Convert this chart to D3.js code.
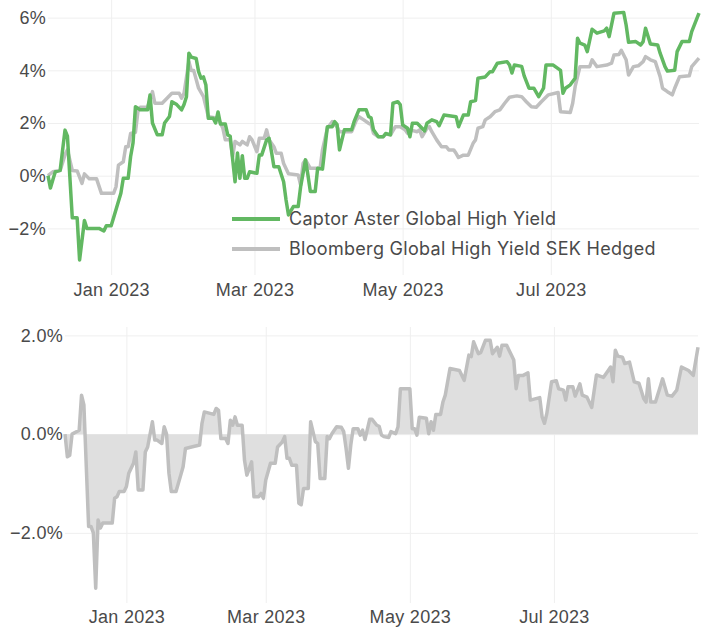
<!DOCTYPE html>
<html>
<head>
<meta charset="utf-8">
<script src="https://cdn.jsdelivr.net/npm/d3@7"></script>
<style>
  html, body { margin: 0; padding: 0; background: #fff; }
  svg { display: block; font-family: Inter, "Open Sans", sans-serif; letter-spacing: 0.3px; }
</style>
</head>
<body>
<svg id="chart" width="707" height="629"></svg>
<script>
// Cumulative return (%) since 2022-12-06
const seriesNames = ['Captor Aster Global High Yield', 'Bloomberg Global High Yield SEK Hedged'];

const captorReturns = [
  ['2022-12-06', 0.0], ['2022-12-07', -0.47], ['2022-12-08', -0.15], ['2022-12-09', 0.15],
  ['2022-12-11', 0.2], ['2022-12-13', 1.73], ['2022-12-14', 1.5], ['2022-12-16', -1.6],
  ['2022-12-18', -1.6], ['2022-12-19', -3.2], ['2022-12-21', -1.7], ['2022-12-22', -2.0],
  ['2022-12-27', -2.0], ['2022-12-29', -2.1], ['2022-12-30', -1.9], ['2023-01-01', -1.9],
  ['2023-01-02', -1.6], ['2023-01-05', -0.67], ['2023-01-06', -0.1], ['2023-01-08', -0.1],
  ['2023-01-09', 0.72], ['2023-01-10', 1.24], ['2023-01-11', 2.62], ['2023-01-13', 2.5],
  ['2023-01-16', 2.5], ['2023-01-17', 3.06], ['2023-01-18', 2.0], ['2023-01-20', 1.55],
  ['2023-01-22', 1.55], ['2023-01-23', 2.0], ['2023-01-25', 2.25], ['2023-01-26', 2.81],
  ['2023-01-28', 2.7], ['2023-01-30', 2.5], ['2023-01-31', 2.7], ['2023-02-01', 3.0],
  ['2023-02-02', 4.65], ['2023-02-03', 4.5], ['2023-02-05', 4.45], ['2023-02-06', 3.95],
  ['2023-02-07', 3.7], ['2023-02-08', 3.75], ['2023-02-09', 3.44], ['2023-02-10', 2.18],
  ['2023-02-12', 2.18], ['2023-02-13', 2.0], ['2023-02-14', 2.42], ['2023-02-15', 1.96],
  ['2023-02-17', 1.96], ['2023-02-18', 1.55], ['2023-02-19', 1.5], ['2023-02-21', -0.23],
  ['2023-02-22', 0.86], ['2023-02-23', -0.1], ['2023-02-24', 0.76], ['2023-02-25', -0.1],
  ['2023-02-26', -0.1], ['2023-02-27', 0.15], ['2023-03-02', 0.09], ['2023-03-03', 0.79],
  ['2023-03-04', 0.79], ['2023-03-06', 1.36], ['2023-03-07', 1.42], ['2023-03-08', 0.91],
  ['2023-03-09', 0.34], ['2023-03-11', 0.34], ['2023-03-13', -0.23], ['2023-03-14', -0.92],
  ['2023-03-15', -1.49], ['2023-03-17', -1.17], ['2023-03-19', -1.17], ['2023-03-20', -0.42],
  ['2023-03-22', 0.6], ['2023-03-23', 0.03], ['2023-03-24', -0.6], ['2023-03-26', -0.6],
  ['2023-03-27', 0.28], ['2023-03-29', 0.25], ['2023-03-31', 1.86], ['2023-04-02', 1.86],
  ['2023-04-03', 2.05], ['2023-04-04', 1.95], ['2023-04-05', 0.98], ['2023-04-07', 1.74],
  ['2023-04-10', 1.74], ['2023-04-11', 2.05], ['2023-04-13', 2.5], ['2023-04-16', 2.5],
  ['2023-04-17', 2.24], ['2023-04-18', 2.2], ['2023-04-19', 1.74], ['2023-04-21', 1.48],
  ['2023-04-23', 1.48], ['2023-04-24', 1.6], ['2023-04-26', 1.55], ['2023-04-27', 2.75],
  ['2023-04-29', 2.81], ['2023-04-30', 2.7], ['2023-05-01', 1.93], ['2023-05-03', 1.8],
  ['2023-05-04', 1.48], ['2023-05-05', 1.99], ['2023-05-07', 1.99], ['2023-05-09', 1.8],
  ['2023-05-10', 1.7], ['2023-05-11', 1.99], ['2023-05-13', 2.12], ['2023-05-15', 2.05],
  ['2023-05-16', 1.9], ['2023-05-18', 2.3], ['2023-05-23', 2.24], ['2023-05-24', 1.86],
  ['2023-05-26', 2.3], ['2023-05-28', 2.3], ['2023-05-29', 2.81], ['2023-05-31', 2.85],
  ['2023-06-01', 3.7], ['2023-06-04', 3.75], ['2023-06-06', 3.95], ['2023-06-07', 3.95],
  ['2023-06-09', 4.27], ['2023-06-13', 4.33], ['2023-06-14', 4.2], ['2023-06-15', 3.9],
  ['2023-06-16', 4.2], ['2023-06-19', 4.15], ['2023-06-20', 3.8], ['2023-06-22', 3.32],
  ['2023-06-24', 3.32], ['2023-06-26', 3.0], ['2023-06-28', 3.32], ['2023-06-29', 4.2],
  ['2023-07-02', 4.2], ['2023-07-05', 4.0], ['2023-07-06', 3.13], ['2023-07-07', 3.32],
  ['2023-07-09', 3.45], ['2023-07-11', 3.7], ['2023-07-12', 5.22], ['2023-07-13', 5.03],
  ['2023-07-15', 4.96], ['2023-07-16', 4.71], ['2023-07-18', 5.56], ['2023-07-20', 5.41],
  ['2023-07-23', 5.5], ['2023-07-24', 5.6], ['2023-07-25', 5.28], ['2023-07-27', 6.17],
  ['2023-07-31', 6.2], ['2023-08-01', 5.72], ['2023-08-02', 5.07], ['2023-08-05', 5.09],
  ['2023-08-07', 4.96], ['2023-08-08', 5.09], ['2023-08-09', 5.6], ['2023-08-11', 5.0],
  ['2023-08-14', 4.96], ['2023-08-15', 4.65], ['2023-08-17', 4.14], ['2023-08-18', 3.97],
  ['2023-08-21', 4.0], ['2023-08-22', 4.71], ['2023-08-24', 5.09], ['2023-08-27', 5.09],
  ['2023-08-28', 5.47], ['2023-08-31', 6.17]
];

const benchmarkReturns = [
  ['2022-12-06', 0.0], ['2022-12-08', 0.15], ['2022-12-11', 0.2], ['2022-12-13', 0.79],
  ['2022-12-14', 0.98], ['2022-12-16', 0.2], ['2022-12-18', 0.18], ['2022-12-20', -0.29],
  ['2022-12-21', 0.07], ['2022-12-23', -0.12], ['2022-12-26', -0.12], ['2022-12-28', -0.67],
  ['2023-01-02', -0.67], ['2023-01-03', -0.42], ['2023-01-04', 0.4], ['2023-01-06', 0.53],
  ['2023-01-07', 1.1], ['2023-01-08', 1.1], ['2023-01-09', 1.6], ['2023-01-11', 1.65],
  ['2023-01-12', 2.43], ['2023-01-13', 2.6], ['2023-01-16', 2.6], ['2023-01-18', 3.19],
  ['2023-01-19', 2.75], ['2023-01-22', 2.75], ['2023-01-24', 2.94], ['2023-01-26', 3.13],
  ['2023-01-29', 3.13], ['2023-01-30', 2.94], ['2023-01-31', 3.13], ['2023-02-02', 4.33],
  ['2023-02-03', 3.99], ['2023-02-04', 3.99], ['2023-02-06', 3.32], ['2023-02-08', 3.0],
  ['2023-02-10', 2.24], ['2023-02-14', 2.18], ['2023-02-16', 1.8], ['2023-02-17', 1.36],
  ['2023-02-19', 1.36], ['2023-02-20', 0.72], ['2023-02-21', 1.3], ['2023-02-23', 1.17],
  ['2023-02-24', 1.3], ['2023-02-26', 1.17], ['2023-02-27', 1.48], ['2023-02-28', 1.36],
  ['2023-03-02', 0.91], ['2023-03-03', 1.42], ['2023-03-05', 1.42], ['2023-03-06', 1.74],
  ['2023-03-07', 1.36], ['2023-03-09', 1.1], ['2023-03-10', 0.85], ['2023-03-12', 0.85],
  ['2023-03-13', 0.46], ['2023-03-15', 0.07], ['2023-03-19', 0.03], ['2023-03-20', -0.36],
  ['2023-03-21', 0.46], ['2023-03-22', 0.6], ['2023-03-24', 0.28], ['2023-03-28', 0.28],
  ['2023-03-29', 0.98], ['2023-03-31', 1.8], ['2023-04-02', 2.05], ['2023-04-04', 1.86],
  ['2023-04-05', 1.67], ['2023-04-10', 1.67], ['2023-04-12', 2.12], ['2023-04-13', 2.24],
  ['2023-04-15', 2.12], ['2023-04-17', 1.99], ['2023-04-18', 1.95], ['2023-04-19', 1.61],
  ['2023-04-21', 1.48], ['2023-04-23', 1.48], ['2023-04-24', 1.58], ['2023-04-26', 1.55],
  ['2023-04-28', 1.86], ['2023-04-30', 1.86], ['2023-05-02', 1.74], ['2023-05-03', 1.61],
  ['2023-05-04', 1.74], ['2023-05-07', 1.67], ['2023-05-08', 1.74], ['2023-05-09', 1.48],
  ['2023-05-11', 1.8], ['2023-05-12', 1.86], ['2023-05-13', 1.67], ['2023-05-15', 1.36],
  ['2023-05-17', 1.1], ['2023-05-19', 1.1], ['2023-05-20', 0.98], ['2023-05-22', 0.98],
  ['2023-05-23', 0.85], ['2023-05-24', 0.69], ['2023-05-26', 0.78], ['2023-05-28', 0.78],
  ['2023-05-30', 1.23], ['2023-05-31', 1.36], ['2023-06-01', 1.8], ['2023-06-03', 1.86],
  ['2023-06-04', 2.12], ['2023-06-06', 2.24], ['2023-06-08', 2.43], ['2023-06-10', 2.5],
  ['2023-06-12', 2.75], ['2023-06-14', 2.98], ['2023-06-17', 3.03], ['2023-06-19', 3.0],
  ['2023-06-21', 2.8], ['2023-06-23', 2.62], ['2023-06-25', 2.6], ['2023-06-27', 2.8],
  ['2023-06-30', 3.07], ['2023-07-04', 3.16], ['2023-07-05', 2.43], ['2023-07-09', 2.4],
  ['2023-07-10', 2.75], ['2023-07-11', 3.38], ['2023-07-13', 4.14], ['2023-07-17', 4.14],
  ['2023-07-18', 4.4], ['2023-07-20', 4.14], ['2023-07-24', 4.2], ['2023-07-26', 4.27],
  ['2023-07-27', 4.58], ['2023-07-29', 4.6], ['2023-07-30', 4.76], ['2023-08-01', 4.4],
  ['2023-08-02', 3.82], ['2023-08-04', 4.14], ['2023-08-06', 4.17], ['2023-08-08', 4.33],
  ['2023-08-09', 4.52], ['2023-08-11', 4.4], ['2023-08-13', 4.33], ['2023-08-15', 3.76],
  ['2023-08-16', 3.32], ['2023-08-18', 3.19], ['2023-08-20', 3.07], ['2023-08-21', 3.32],
  ['2023-08-23', 3.76], ['2023-08-27', 3.79], ['2023-08-28', 4.14], ['2023-08-31', 4.46]
];

// Relative return vs benchmark (%)
const relativeReturns = [
  ['2022-12-06', 0.0], ['2022-12-07', -0.46], ['2022-12-08', -0.43], ['2022-12-09', 0.0],
  ['2022-12-12', 0.08], ['2022-12-13', 0.79], ['2022-12-14', 0.59], ['2022-12-16', -1.87],
  ['2022-12-17', -1.87], ['2022-12-18', -2.0], ['2022-12-19', -3.12], ['2022-12-20', -1.74],
  ['2022-12-21', -1.9], ['2022-12-22', -1.8], ['2022-12-26', -1.8], ['2022-12-27', -1.3],
  ['2022-12-28', -1.27], ['2022-12-29', -1.16], ['2022-12-31', -1.16], ['2023-01-01', -1.06],
  ['2023-01-02', -0.79], ['2023-01-04', -0.59], ['2023-01-05', -0.36], ['2023-01-06', -1.13],
  ['2023-01-08', -1.13], ['2023-01-09', -0.36], ['2023-01-10', -0.26], ['2023-01-12', 0.25],
  ['2023-01-13', -0.12], ['2023-01-14', -0.12], ['2023-01-16', -0.19], ['2023-01-17', 0.15],
  ['2023-01-18', 0.0], ['2023-01-19', -0.79], ['2023-01-20', -1.16], ['2023-01-22', -1.16],
  ['2023-01-24', -0.83], ['2023-01-25', -0.66], ['2023-01-26', -0.29], ['2023-02-01', -0.22],
  ['2023-02-02', 0.22], ['2023-02-03', 0.45], ['2023-02-07', 0.4], ['2023-02-08', 0.52],
  ['2023-02-09', 0.48], ['2023-02-10', -0.09], ['2023-02-12', -0.09], ['2023-02-13', -0.19],
  ['2023-02-14', 0.28], ['2023-02-15', 0.18], ['2023-02-16', 0.35], ['2023-02-17', 0.18],
  ['2023-02-19', 0.18], ['2023-02-20', -0.53], ['2023-02-21', -0.83], ['2023-02-23', -0.56],
  ['2023-02-24', -1.27], ['2023-02-26', -1.27], ['2023-02-27', -1.2], ['2023-02-28', -1.3],
  ['2023-03-01', -0.93], ['2023-03-03', -0.59], ['2023-03-05', -0.59], ['2023-03-06', -0.26],
  ['2023-03-08', -0.16], ['2023-03-09', -0.05], ['2023-03-10', -0.49], ['2023-03-11', -0.49],
  ['2023-03-12', -0.63], ['2023-03-14', -0.63], ['2023-03-15', -1.4], ['2023-03-16', -1.43],
  ['2023-03-17', -1.1], ['2023-03-19', -1.1], ['2023-03-20', 0.25], ['2023-03-22', -0.15],
  ['2023-03-23', -0.19], ['2023-03-24', -0.9], ['2023-03-26', -0.9], ['2023-03-27', -0.05],
  ['2023-03-28', -0.09], ['2023-03-29', 0.01], ['2023-03-31', 0.15], ['2023-04-02', 0.14],
  ['2023-04-03', 0.05], ['2023-04-04', -0.29], ['2023-04-05', -0.69], ['2023-04-06', -0.22],
  ['2023-04-07', 0.11], ['2023-04-09', 0.11], ['2023-04-10', -0.02], ['2023-04-11', 0.08],
  ['2023-04-12', -0.11], ['2023-04-14', 0.3], ['2023-04-15', 0.3], ['2023-04-17', 0.18],
  ['2023-04-18', 0.16], ['2023-04-19', -0.02], ['2023-04-20', -0.05], ['2023-04-22', -0.07],
  ['2023-04-23', 0.05], ['2023-04-25', 0.01], ['2023-04-26', 0.15], ['2023-04-27', 0.92],
  ['2023-05-01', 0.92], ['2023-05-02', 0.11], ['2023-05-03', 0.11], ['2023-05-04', -0.02],
  ['2023-05-05', 0.34], ['2023-05-08', 0.32], ['2023-05-09', 0.01], ['2023-05-10', 0.25],
  ['2023-05-11', 0.08], ['2023-05-12', 0.4], ['2023-05-14', 0.4], ['2023-05-15', 0.65],
  ['2023-05-16', 0.79], ['2023-05-18', 1.33], ['2023-05-22', 1.29], ['2023-05-24', 1.09],
  ['2023-05-26', 1.6], ['2023-05-27', 1.57], ['2023-05-28', 1.87], ['2023-05-30', 1.63],
  ['2023-05-31', 1.65], ['2023-06-02', 1.9], ['2023-06-04', 1.9], ['2023-06-05', 1.63],
  ['2023-06-07', 1.76], ['2023-06-08', 1.58], ['2023-06-09', 1.8], ['2023-06-11', 1.8],
  ['2023-06-12', 1.7], ['2023-06-14', 1.5], ['2023-06-15', 0.92], ['2023-06-16', 1.19],
  ['2023-06-18', 1.19], ['2023-06-20', 1.24], ['2023-06-21', 0.69], ['2023-06-25', 0.74],
  ['2023-06-26', 0.35], ['2023-06-27', 0.22], ['2023-06-28', 0.42], ['2023-06-30', 1.06],
  ['2023-07-02', 1.08], ['2023-07-03', 0.92], ['2023-07-05', 0.89], ['2023-07-06', 0.69],
  ['2023-07-07', 0.96], ['2023-07-09', 0.96], ['2023-07-10', 0.77], ['2023-07-12', 1.02],
  ['2023-07-13', 0.79], ['2023-07-15', 0.75], ['2023-07-17', 0.54], ['2023-07-19', 1.2],
  ['2023-07-22', 1.15], ['2023-07-24', 1.29], ['2023-07-25', 1.36], ['2023-07-26', 1.06],
  ['2023-07-27', 1.7], ['2023-07-28', 1.58], ['2023-07-30', 1.56], ['2023-07-31', 1.43],
  ['2023-08-02', 1.46], ['2023-08-04', 1.06], ['2023-08-06', 1.03], ['2023-08-08', 0.72],
  ['2023-08-09', 0.65], ['2023-08-10', 1.12], ['2023-08-11', 0.65], ['2023-08-13', 0.65],
  ['2023-08-15', 0.96], ['2023-08-16', 1.12], ['2023-08-18', 0.79], ['2023-08-20', 0.77],
  ['2023-08-22', 0.89], ['2023-08-24', 1.36], ['2023-08-27', 1.29], ['2023-08-29', 1.19],
  ['2023-08-31', 1.76]
];

const dateRange = ['2022-12-06', '2023-08-31'];
const xTickDates = ['2023-01-01', '2023-03-01', '2023-05-01', '2023-07-01'];
const topTicks = [-2, 0, 2, 4, 6];
const bottomTicks = [-2, 0, 2];

const COLORS = {
  captor: '#62b862',
  benchmark: '#bfbfbf',
  area: '#dfdfdf',
  grid: '#efefef',
  text: '#4a4a4a'
};
const FONT_SIZE = 18;

const parseDate = d3.utcParse('%Y-%m-%d');
const toPoints = rows => rows.map(([d, v]) => ({ date: parseDate(d), value: v }));
const minus = s => s.replace('-', '\u2212');

const svg = d3.select('#chart');

/**
 * Draws gridlines and tick labels for one panel.
 */
const drawAxes = (g, x, y, yTicks, yFormat, labelPad) => {
  const [x0, x1] = x.range();
  const [yBottom, yTopEdge] = y.range();

  g.append('g')
    .attr('transform', `translate(0,${yBottom})`)
    .call(d3.axisBottom(x)
      .tickValues(xTickDates.map(parseDate))
      .tickFormat(d3.utcFormat('%b %Y'))
      .tickSize(-(yBottom - yTopEdge))
      .tickPadding(labelPad))
    .call(a => a.select('.domain').remove())
    .call(a => a.selectAll('line').attr('stroke', COLORS.grid))
    .call(a => a.selectAll('text').attr('fill', COLORS.text).attr('font-size', FONT_SIZE));

  g.append('g')
    .attr('transform', `translate(${x0},0)`)
    .call(d3.axisLeft(y)
      .tickValues(yTicks)
      .tickFormat(d => minus(yFormat(d)))
      .tickSize(-(x1 - x0))
      .tickPadding(2))
    .call(a => a.select('.domain').remove())
    .call(a => a.selectAll('line').attr('stroke', COLORS.grid))
    .call(a => a.selectAll('text').attr('fill', COLORS.text).attr('font-size', FONT_SIZE));
};

// ---- Top panel: cumulative returns ----
const xUpper = d3.scaleUtc().domain(dateRange.map(parseDate)).range([48, 699]);
const yUpper = d3.scaleLinear().domain([-3.77, 6.67]).range([275, 0]);

const upperPanel = svg.append('g');
drawAxes(upperPanel, xUpper, yUpper, topTicks, d => `${d}%`, 8);

const upperLine = d3.line().x(d => xUpper(d.date)).y(d => yUpper(d.value));

upperPanel.append('path')
  .datum(toPoints(benchmarkReturns))
  .attr('fill', 'none')
  .attr('stroke', COLORS.benchmark)
  .attr('stroke-width', 3.5)
  .attr('stroke-linejoin', 'round')
  .attr('d', upperLine);

upperPanel.append('path')
  .datum(toPoints(captorReturns))
  .attr('fill', 'none')
  .attr('stroke', COLORS.captor)
  .attr('stroke-width', 3.5)
  .attr('stroke-linejoin', 'round')
  .attr('d', upperLine);

// Legend
const legend = upperPanel.append('g').attr('transform', 'translate(232,219)');
[COLORS.captor, COLORS.benchmark].forEach((color, i) => {
  const row = legend.append('g').attr('transform', `translate(0,${i * 30})`);
  row.append('line')
    .attr('x1', 0).attr('x2', 48)
    .attr('stroke', color).attr('stroke-width', 4);
  row.append('text')
    .attr('x', 57).attr('dy', '0.36em')
    .attr('fill', COLORS.text)
    .attr('font-size', FONT_SIZE)
    .text(seriesNames[i]);
});

// ---- Bottom panel: relative return ----
const xLower = d3.scaleUtc().domain(dateRange.map(parseDate)).range([65, 698]);
const yLower = d3.scaleLinear().domain([-3.42, 2.17]).range([603, 327]);

const lowerPanel = svg.append('g');
drawAxes(lowerPanel, xLower, yLower, bottomTicks, d => `${d.toFixed(1)}%`, 7);

const relPoints = toPoints(relativeReturns);

lowerPanel.append('path')
  .datum(relPoints)
  .attr('fill', COLORS.area)
  .attr('d', d3.area()
    .x(d => xLower(d.date))
    .y0(yLower(0))
    .y1(d => yLower(d.value)));

lowerPanel.append('path')
  .datum(relPoints)
  .attr('fill', 'none')
  .attr('stroke', COLORS.benchmark)
  .attr('stroke-width', 3.5)
  .attr('stroke-linejoin', 'round')
  .attr('d', d3.line().x(d => xLower(d.date)).y(d => yLower(d.value)));
</script>
</body>
</html>
